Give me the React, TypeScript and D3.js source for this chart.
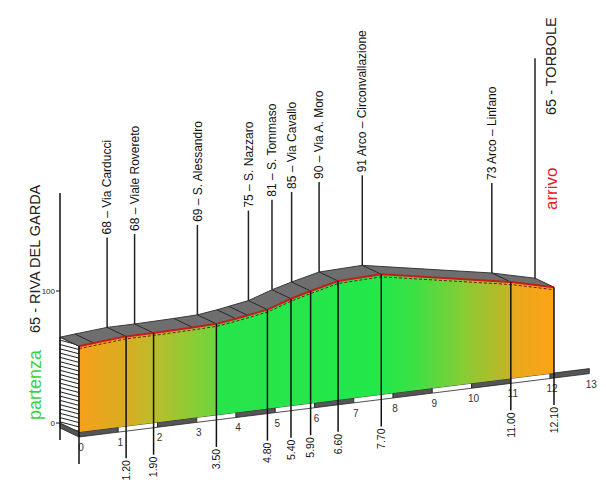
import React from "react";
import * as d3 from "d3";

// ---- data ----
const waypointKm = [0, 1.2, 1.9, 3.5, 4.8, 5.4, 5.9, 6.6, 7.7, 11.0, 12.1];
const waypointElev = [65, 68, 68, 69, 75, 81, 85, 90, 91, 73, 65];
const waypointNames = [
  "65 - RIVA DEL GARDA",
  "68 – Via Carducci",
  "68 – Viale Rovereto",
  "69 – S. Alessandro",
  "75 – S. Nazzaro",
  "81 – S. Tommaso",
  "85 – Via Cavallo",
  "90 – Via A. Moro",
  "91 Arco – Circonvallazione",
  "73 Arco – Linfano",
  "65 - TORBOLE",
];
const waypointKmLabels = ["", "1.20", "1.90", "3.50", "4.80", "5.40", "5.90", "6.60", "7.70", "11.00", "12.10"];
const profileKm = [0, 0.38, 1.2, 1.9, 2.9, 3.5, 4.0, 4.3, 4.8, 5.4, 5.9, 6.6, 7.7, 11.0, 12.1];
const profileElev = [65, 66, 68, 68, 68.5, 69, 71, 72.5, 75, 81, 85, 90, 91, 73, 65];
const kmTicks = [0, 1, 2, 3, 4, 5, 6, 7, 8, 9, 10, 11, 12, 13];
const elevTicks = [0, 100];
const gradientKm = [0, 1.2, 1.9, 3.49, 3.51, 7.7, 8.6, 9.8, 10.99, 11.01, 12.1];
const gradientColors = ["#f6a01a", "#d9ac22", "#bcbc2c", "#6cd63c", "#28e44a", "#22e84a", "#3ee044", "#88cc34", "#c4b426", "#e6a81e", "#fca414"];

const W = 606;
const H = 497;
const DX = -19;
const DY = -9;
const FONT = "'Liberation Sans', Arial, Helvetica, sans-serif";

export default function App() {
  const totalKm = waypointKm[waypointKm.length - 1];
  const x = d3.scaleLinear().domain([0, totalKm]).range([79, 554]);
  const base = d3.scaleLinear().domain([0, totalKm]).range([432, 373]);
  const h = d3.scaleLinear().domain([0, 100]).range([0, 132]);

  const front = (k: number, e: number): [number, number] => [x(k), base(k) - h(e)];
  const back = (k: number, e: number): [number, number] => [x(k) + DX, base(k) - h(e) + DY];

  const profile = profileKm.map((k, i) => ({ k, e: profileElev[i] }));
  const frontPts = profile.map((p) => front(p.k, p.e));
  const backPts = profile.map((p) => back(p.k, p.e));

  const line = d3.line<[number, number]>();
  const topSurface = [...backPts, ...frontPts.slice().reverse()];
  const frontFace: [number, number][] = [
    ...frontPts,
    [x(totalKm), base(totalKm)],
    [x(0), base(0)],
  ];

  // left side face
  const e0 = profileElev[0];
  const sideFace: [number, number][] = [back(0, e0), front(0, e0), [x(0), base(0)], [x(0) + DX, base(0) + DY]];
  const sideTop = back(0, e0)[1];
  const sideBottom = base(0) + DY;
  const stripes = d3.range(sideTop + 3, sideBottom + 4, 4.3);

  const axisX = x(0) + DX;
  const axisY = (e: number) => base(0) + DY - h(e);

  return (
    <svg width={W} height={H} style={{ position: "absolute", left: 0, top: 0, background: "#fff" }} fontFamily={FONT}>
      <defs>
        <linearGradient id="frontGrad" gradientUnits="userSpaceOnUse" x1={x(0)} x2={x(totalKm)} y1={0} y2={0}>
          {gradientKm.map((k, i) => (
            <stop key={i} offset={k / totalKm} stopColor={gradientColors[i]} />
          ))}
        </linearGradient>
        <clipPath id="sideClip">
          <path d={line(sideFace) + "Z"} />
        </clipPath>
      </defs>
      <rect x={0} y={0} width={W} height={H} fill="#fff" />

      {/* bottom strip */}
      {kmTicks.slice(0, -1).map((k) => (
        <path
          key={"strip" + k}
          d={
            line([
              [x(k), base(k)],
              [x(k + 1), base(k + 1)],
              [x(k + 1), base(k + 1) + 5],
              [x(k), base(k) + 5],
            ]) + "Z"
          }
          fill={k % 2 === 0 ? "#555" : "#fff"}
          stroke="#222"
          strokeWidth={0.8}
        />
      ))}
      <path
        d={line([[x(0) + DX, base(0) + DY], [x(0), base(0)], [x(0), base(0) + 5], [x(0) + DX, base(0) + DY + 5]]) + "Z"}
        fill="#555"
        stroke="#222"
        strokeWidth={0.8}
      />

      {/* km tick labels */}
      {kmTicks.map((k) => (
        <text key={"kt" + k} x={x(k) + 2} y={base(k) + 19} fontSize={10} textAnchor="middle" fill="#333">
          {k}
        </text>
      ))}

      {/* side face hatch */}
      <path d={line(sideFace) + "Z"} fill="#fff" />
      <g clipPath="url(#sideClip)">
        {stripes.map((y, i) => (
          <line key={"st" + i} x1={axisX} y1={y} x2={x(0)} y2={y + 5} stroke="#222" strokeWidth={1} />
        ))}
      </g>
      <path d={line(sideFace) + "Z"} fill="none" stroke="#333" strokeWidth={1} />

      {/* front face */}
      <path d={line(frontFace) + "Z"} fill="url(#frontGrad)" />

      {/* top surface */}
      <path d={line(topSurface) + "Z"} fill="#6e6e6e" />
      <path d={line(backPts)!} fill="none" stroke="#3a3a3a" strokeWidth={1} />
      {profile.map((p, i) => (
        <line
          key={"dv" + i}
          x1={backPts[i][0]}
          y1={backPts[i][1]}
          x2={frontPts[i][0]}
          y2={frontPts[i][1]}
          stroke="#2a2a2a"
          strokeWidth={1}
        />
      ))}
      <path d={line(frontPts)!} fill="none" stroke="#c41c1c" strokeWidth={2} />
      <path
        d={line(frontPts.map(([a, b]) => [a, b + 2.5] as [number, number]))!}
        fill="none"
        stroke="#7a1212"
        strokeWidth={1}
        strokeDasharray="3 2"
      />

      {/* axis */}
      <line x1={axisX} y1={193} x2={axisX} y2={440} stroke="#111" strokeWidth={1.5} />
      {elevTicks.map((t) => (
        <g key={"et" + t}>
          <line x1={axisX - 4} y1={axisY(t)} x2={axisX} y2={axisY(t)} stroke="#111" strokeWidth={1} />
          <text x={axisX - 5} y={axisY(t) + 3} fontSize={8} textAnchor="end" fill="#222">
            {t}
          </text>
        </g>
      ))}

      {/* waypoint lines and labels */}
      {waypointKm.map((k, i) => {
        const e = waypointElev[i];
        const [fx, fy] = front(k, e);
        const [bx, by] = back(k, e);
        const bottom = base(k) + 32;
        const isFirst = i === 0;
        const isLast = i === waypointKm.length - 1;
        const topY = isLast ? by - 220 : by - 90;
        return (
          <g key={"wp" + i}>
            <line x1={fx} y1={fy} x2={fx} y2={bottom} stroke="#111" strokeWidth={1.5} />
            {!isFirst && <line x1={bx} y1={by} x2={bx} y2={topY} stroke="#222" strokeWidth={1.5} />}
            {!isFirst && !isLast && (
              <text transform={`translate(${bx},${topY - 3}) rotate(-90)`} dy="0.35em" fontSize={12} fill="#111">
                {waypointNames[i]}
              </text>
            )}
            {waypointKmLabels[i] && (
              <text
                transform={`translate(${fx},${bottom + 2}) rotate(-90)`}
                dy="0.35em"
                fontSize={10.5}
                textAnchor="end"
                fill="#111"
              >
                {waypointKmLabels[i]}
              </text>
            )}
          </g>
        );
      })}

      {/* start / finish labels */}
      <text transform={`translate(35,${axisY(0) - 90}) rotate(-90)`} dy="0.35em" fontSize={14.5} fill="#222">
        {waypointNames[0]}
      </text>
      <text transform={`translate(35,420) rotate(-90)`} dy="0.35em" fontSize={18} fill="#3cd23c">
        partenza
      </text>
      <text transform={`translate(551,115) rotate(-90)`} dy="0.35em" fontSize={14.5} fill="#222">
        {waypointNames[waypointNames.length - 1]}
      </text>
      <text transform={`translate(551,210) rotate(-90)`} dy="0.35em" fontSize={17} fill="#e02020">
        arrivo
      </text>
    </svg>
  );
}
